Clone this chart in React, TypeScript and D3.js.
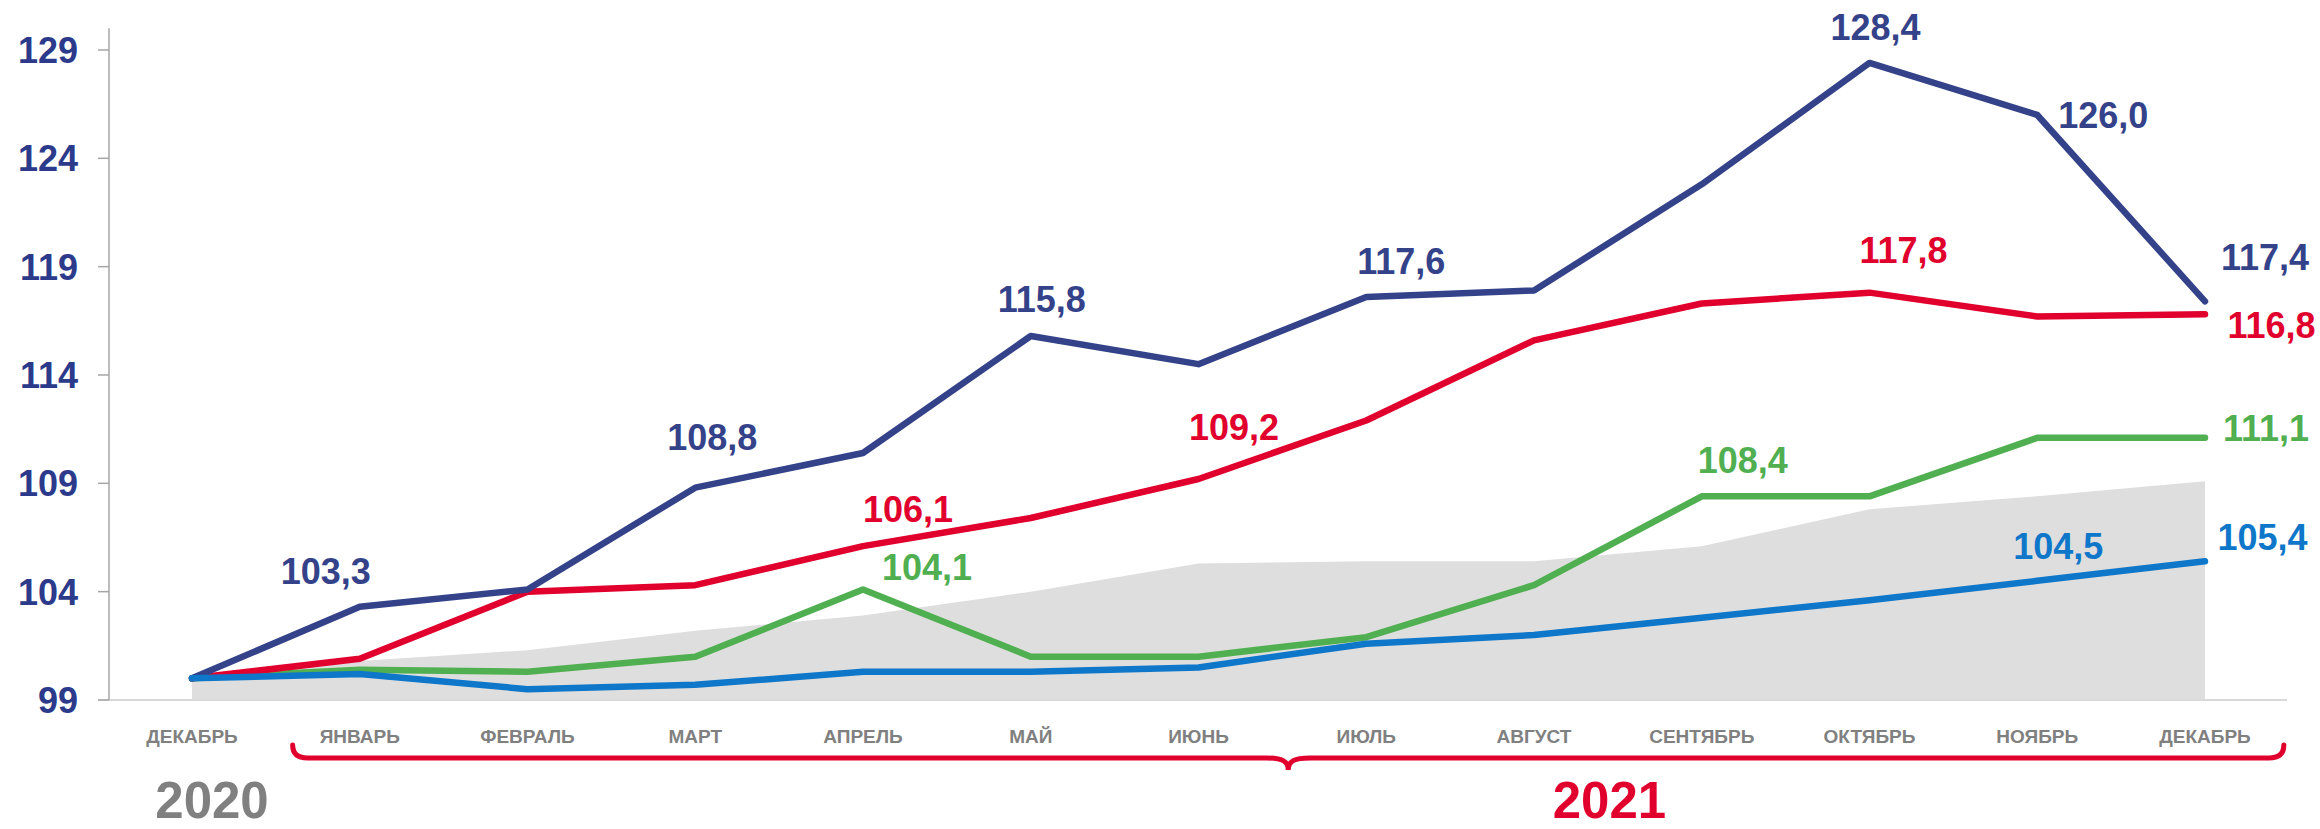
import React from "react";
import * as d3 from "d3";

const months = [
  "ДЕКАБРЬ", "ЯНВАРЬ", "ФЕВРАЛЬ", "МАРТ", "АПРЕЛЬ", "МАЙ", "ИЮНЬ",
  "ИЮЛЬ", "АВГУСТ", "СЕНТЯБРЬ", "ОКТЯБРЬ", "НОЯБРЬ", "ДЕКАБРЬ",
];
const navySeries = [100, 103.3, 104.1, 108.8, 110.4, 115.8, 114.5, 117.6, 117.9, 122.8, 128.4, 126.0, 117.4];
const redSeries = [100, 100.9, 104.0, 104.3, 106.1, 107.4, 109.2, 111.9, 115.6, 117.3, 117.8, 116.7, 116.8];
const greenSeries = [100, 100.4, 100.3, 101.0, 104.1, 101.0, 101.0, 101.9, 104.3, 108.4, 108.4, 111.1, 111.1];
const blueSeries = [100, 100.2, 99.5, 99.7, 100.3, 100.3, 100.5, 101.6, 102.0, 102.8, 103.6, 104.5, 105.4];
const graySeries = [100, 100.8, 101.3, 102.2, 102.9, 104.0, 105.3, 105.4, 105.4, 106.1, 107.8, 108.4, 109.1];
const yTicks = [99, 104, 109, 114, 119, 124, 129];
const yearLabels = ["2020", "2021"];

const W = 2320;
const H = 829;
const FONT = "'Liberation Sans', Arial, Helvetica, sans-serif";

const COLORS = {
  navy: "#34428A",
  red: "#E1002D",
  green: "#50AF50",
  blue: "#0E77CA",
  gray: "#DEDEDE",
  axisText: "#2B3A8A",
  month: "#808080",
};

const seriesDefs = [
  { key: "green", data: greenSeries, color: COLORS.green },
  { key: "red", data: redSeries, color: COLORS.red },
  { key: "navy", data: navySeries, color: COLORS.navy },
  { key: "blue", data: blueSeries, color: COLORS.blue },
];

// label placement (layout only): series, point index, offsets, anchor
const labelDefs = [
  { s: "navy", i: 1, dx: -34, dy: -23, a: "middle" },
  { s: "navy", i: 3, dx: 17, dy: -38, a: "middle" },
  { s: "navy", i: 5, dx: 11, dy: -24, a: "middle" },
  { s: "navy", i: 7, dx: 35, dy: -23, a: "middle" },
  { s: "navy", i: 10, dx: 6, dy: -23, a: "middle" },
  { s: "navy", i: 11, dx: 21, dy: 13, a: "start" },
  { s: "navy", i: 12, dx: 16, dy: -31, a: "start" },
  { s: "red", i: 4, dx: 45, dy: -24.5, a: "middle" },
  { s: "red", i: 6, dx: 35.5, dy: -39, a: "middle" },
  { s: "red", i: 10, dx: 34, dy: -30, a: "middle" },
  { s: "red", i: 12, dx: 22.5, dy: 24, a: "start" },
  { s: "green", i: 4, dx: 64, dy: -9, a: "middle" },
  { s: "green", i: 9, dx: 41, dy: -23.5, a: "middle" },
  { s: "green", i: 12, dx: 18, dy: 3, a: "start" },
  { s: "blue", i: 11, dx: 21, dy: -21.5, a: "middle" },
  { s: "blue", i: 12, dx: 12.5, dy: -11, a: "start" },
];

export default function App() {
  const x = d3.scaleLinear().domain([0, 12]).range([192, 2205]);
  const y = d3.scaleLinear().domain([99, 130]).range([700, 28.3]);
  const idx = months.map((_, i) => i);

  const lineGen = (data: number[]) =>
    d3.line<number>().x((i) => x(i)).y((i) => y(data[i]))(idx) || "";
  const areaPath =
    d3.area<number>().x((i) => x(i)).y0(y(99)).y1((i) => y(graySeries[i]))(idx) || "";

  const fmt = (v: number) => d3.format(".1f")(v).replace(".", ",");
  const byKey: Record<string, { data: number[]; color: string }> = {};
  seriesDefs.forEach((s) => (byKey[s.key] = s));

  // brace under 2021 months
  const bl = x(0.6);
  const br = x(12.47);
  const bm = (bl + br) / 2;
  const by = 758;
  const bracePath = [
    `M${bl},${by - 13}`,
    `Q${bl},${by} ${bl + 15},${by}`,
    `L${bm - 22},${by}`,
    `C${bm - 6},${by} ${bm},${by + 3} ${bm},${by + 12}`,
    `C${bm},${by + 3} ${bm + 6},${by} ${bm + 22},${by}`,
    `L${br - 15},${by}`,
    `Q${br},${by} ${br},${by - 13}`,
  ].join(" ");

  return (
    <svg
      width={W}
      height={H}
      viewBox={`0 0 ${W} ${H}`}
      style={{ position: "absolute", left: 0, top: 0, background: "#fff" }}
      fontFamily={FONT}
    >
      <rect x={0} y={0} width={W} height={H} fill="#fff" />
      {/* gray area */}
      <path d={areaPath} fill={COLORS.gray} />
      {/* x baseline */}
      <line x1={98} x2={2287} y1={y(99)} y2={y(99)} stroke="#D9D9D9" strokeWidth={2} />
      {/* y axis */}
      <line x1={109} x2={109} y1={y(130)} y2={y(99)} stroke="#A6A6A6" strokeWidth={1.5} />
      {yTicks.map((t) => (
        <g key={t}>
          <line x1={98} x2={109} y1={y(t)} y2={y(t)} stroke="#A6A6A6" strokeWidth={1.5} />
          <text
            x={78}
            y={y(t)}
            dy="0.36em"
            textAnchor="end"
            fontSize={36}
            fontWeight="bold"
            fill={COLORS.axisText}
          >
            {t}
          </text>
        </g>
      ))}
      {/* lines */}
      {seriesDefs.map((s) => (
        <path
          key={s.key}
          d={lineGen(s.data)}
          fill="none"
          stroke={s.color}
          strokeWidth={6.5}
          strokeLinejoin="round"
          strokeLinecap="round"
        />
      ))}
      {/* value labels */}
      {labelDefs.map((l, k) => {
        const s = byKey[l.s];
        const v = s.data[l.i];
        return (
          <text
            key={k}
            x={x(l.i) + l.dx}
            y={y(v) + l.dy}
            textAnchor={l.a}
            fontSize={36}
            fontWeight="bold"
            fill={s.color}
          >
            {fmt(v)}
          </text>
        );
      })}
      {/* month labels */}
      {months.map((m, i) => (
        <text
          key={i}
          x={x(i)}
          y={743}
          textAnchor="middle"
          fontSize={19}
          fontWeight="bold"
          fill={COLORS.month}
        >
          {m}
        </text>
      ))}
      {/* brace */}
      <path d={bracePath} fill="none" stroke={COLORS.red} strokeWidth={5} strokeLinecap="round" />
      {/* years */}
      <text x={x(0) + 20} y={818} textAnchor="middle" fontSize={51} fontWeight="bold" fill="#808080">
        {yearLabels[0]}
      </text>
      <text x={x(8.45)} y={818} textAnchor="middle" fontSize={51} fontWeight="bold" fill={COLORS.red}>
        {yearLabels[1]}
      </text>
    </svg>
  );
}
